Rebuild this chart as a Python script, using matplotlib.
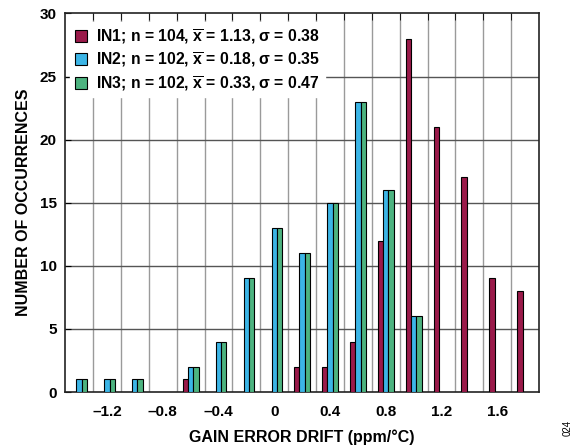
import numpy as np
import matplotlib
matplotlib.use("Agg")
from matplotlib import pyplot as plt
from matplotlib.patches import Patch

plt.rcParams['font.family'] = ['Liberation Sans', 'DejaVu Sans']
plt.rcParams['mathtext.fontset'] = 'custom'
plt.rcParams['mathtext.rm'] = 'Liberation Sans:bold'
plt.rcParams['mathtext.bf'] = 'Liberation Sans:bold'
plt.rcParams['mathtext.it'] = 'Liberation Sans:bold'

# bin centres, ppm/°C
bins = [-1.4, -1.2, -1.0, -0.8, -0.6, -0.4, -0.2, 0.0, 0.2,
        0.4, 0.6, 0.8, 1.0, 1.2, 1.4, 1.6, 1.8]
in1_counts = [0, 0, 0, 0, 1, 0, 0, 0, 2, 2, 4, 12, 28, 21, 17, 9, 8]
in2_counts = [1, 1, 1, 0, 2, 4, 9, 13, 11, 15, 23, 16, 6, 0, 0, 0, 0]
in3_counts = [1, 1, 1, 0, 2, 4, 9, 13, 11, 15, 23, 16, 6, 0, 0, 0, 0]

series_labels = [
    r"IN1; n = 104, $\overline{\mathbf{x}}$ = 1.13, σ = 0.38",
    r"IN2; n = 102, $\overline{\mathbf{x}}$ = 0.18, σ = 0.35",
    r"IN3; n = 102, $\overline{\mathbf{x}}$ = 0.33, σ = 0.47",
]
colors = ["#9a1a4a", "#3cb5e6", "#4db380"]

xtick_vals = [-1.2, -0.8, -0.4, 0, 0.4, 0.8, 1.2, 1.6]
xtick_labels = ["\u20131.2", "\u20130.8", "\u20130.4", "0", "0.4", "0.8", "1.2", "1.6"]

fig = plt.figure(figsize=(5.76, 4.48), dpi=100)
ax = fig.add_axes([0.113, 0.125, 0.823, 0.845])

x = np.array(bins)
w = 0.038
for off, counts, col in zip([-w, 0, w], [in1_counts, in2_counts, in3_counts], colors):
    c = np.array(counts)
    keep = c > 0
    ax.bar(x[keep] + off, c[keep], width=w, color=col, edgecolor="black",
           linewidth=0.8, zorder=3)

ax.set_xlim(-1.5, 1.9)
ax.set_ylim(0, 30)

# gridlines sit on the bin edges
edges = np.arange(-1.3, 1.75, 0.2)
for e in edges:
    ax.axvline(e, color="#9a9a9a", lw=1.0, zorder=1)
for yv in range(5, 30, 5):
    ax.axhline(yv, color="#555555", lw=1.0, zorder=1)

ax.set_xticks(edges, minor=True)
ax.set_xticks(xtick_vals)
ax.set_xticklabels(xtick_labels, fontsize=11, fontweight="bold")
ax.set_yticks(range(0, 31, 5))
ax.set_yticklabels([str(v) for v in range(0, 31, 5)], fontsize=11, fontweight="bold")
ax.tick_params(axis="x", which="major", length=0, pad=9)
ax.tick_params(axis="x", which="minor", direction="in", top=True, bottom=False, length=5)
ax.tick_params(axis="y", direction="in", length=4, pad=6, right=False)

for s in ax.spines.values():
    s.set_linewidth(1.2)
    s.set_color("#222222")

handles = [Patch(facecolor=c, edgecolor="black", linewidth=0.8) for c in colors]
leg = ax.legend(handles, series_labels, loc="upper left", bbox_to_anchor=(0.0, 0.99),
                frameon=True, fancybox=False, framealpha=1.0, edgecolor="white",
                prop={"weight": "bold", "size": 11.3}, handlelength=0.8, handleheight=0.8,
                handletextpad=0.6, labelspacing=0.3, borderpad=0.3, borderaxespad=0.3)
leg.set_zorder(5)

ax.set_xlabel("GAIN ERROR DRIFT (ppm/\u00b0C)", fontsize=11.5, fontweight="bold", labelpad=8)
ax.set_ylabel("NUMBER OF OCCURRENCES", fontsize=11.5, fontweight="bold", labelpad=6)

fig.text(0.985, 0.045, "024", rotation=90, fontsize=7, ha="center", va="center")

fig.savefig("out.png", dpi=100)
